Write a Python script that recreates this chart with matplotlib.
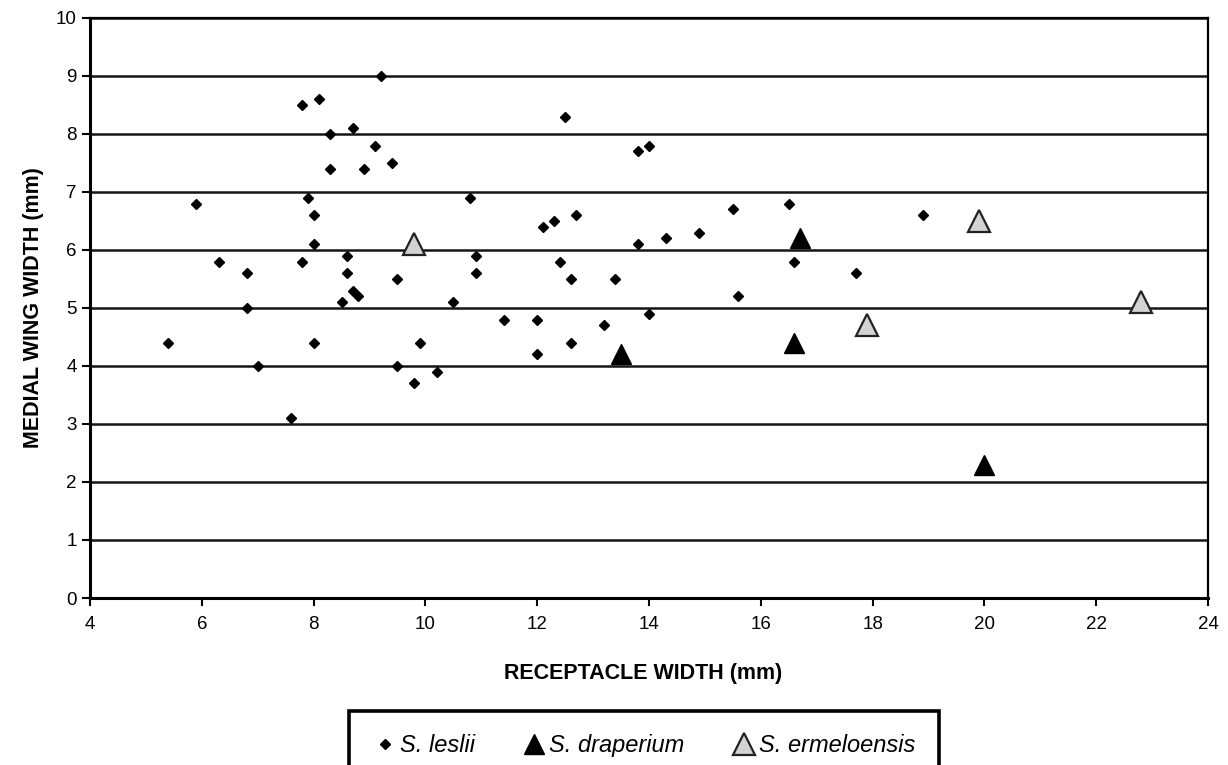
import matplotlib
matplotlib.use("Agg")
import matplotlib.pyplot as plt

plt.rcParams["font.family"] = ["Liberation Sans", "DejaVu Sans"]

# S. leslii
leslii_x = [5.4, 5.9, 6.3, 6.8, 6.8, 7.0, 7.6, 7.8, 8.1, 7.9, 7.8, 8.0, 8.0, 8.0,
            8.3, 8.3, 8.7, 8.9, 9.1, 9.2, 9.4, 8.6, 8.6, 8.7, 8.8, 8.5, 9.5, 9.5,
            9.8, 9.9, 10.2, 10.5, 10.8, 10.9, 10.9, 11.4, 12.0, 12.0, 12.1, 12.3,
            12.4, 12.5, 12.6, 12.6, 12.7, 13.2, 13.4, 13.8, 14.0, 13.8, 14.0, 14.3,
            14.9, 15.5, 15.6, 16.5, 16.6, 17.7, 18.9]
leslii_y = [4.4, 6.8, 5.8, 5.6, 5.0, 4.0, 3.1, 8.5, 8.6, 6.9, 5.8, 6.6, 6.1, 4.4,
            8.0, 7.4, 8.1, 7.4, 7.8, 9.0, 7.5, 5.9, 5.6, 5.3, 5.2, 5.1, 5.5, 4.0,
            3.7, 4.4, 3.9, 5.1, 6.9, 5.9, 5.6, 4.8, 4.8, 4.2, 6.4, 6.5,
            5.8, 8.3, 5.5, 4.4, 6.6, 4.7, 5.5, 7.7, 7.8, 6.1, 4.9, 6.2,
            6.3, 6.7, 5.2, 6.8, 5.8, 5.6, 6.6]

# S. draperium
draperium_x = [13.5, 16.7, 16.6, 20.0]
draperium_y = [4.2, 6.2, 4.4, 2.3]

# S. ermeloensis
ermeloensis_x = [9.8, 17.9, 19.9, 22.8]
ermeloensis_y = [6.1, 4.7, 6.5, 5.1]

x_ticks = [4, 6, 8, 10, 12, 14, 16, 18, 20, 22, 24]
y_ticks = [0, 1, 2, 3, 4, 5, 6, 7, 8, 9, 10]

fig = plt.figure(figsize=(12.28, 7.65), dpi=100)
ax = fig.add_axes([0.0733, 0.2183, 0.9104, 0.7582])

# horizontal gridlines
for yv in y_ticks[1:]:
    ax.axhline(yv, color="#151515", linewidth=1.8, zorder=1)

ax.plot(leslii_x, leslii_y, linestyle="none", marker="D", markersize=5.2,
        color="black", label="S. leslii", zorder=3)
ax.plot(draperium_x, draperium_y, linestyle="none", marker="^", markersize=14,
        color="black", label="S. draperium", zorder=3)
ax.plot(ermeloensis_x, ermeloensis_y, linestyle="none", marker="^", markersize=16,
        markerfacecolor="#d3d3d3", markeredgecolor="#222222", markeredgewidth=1.6,
        label="S. ermeloensis", zorder=3)

ax.set_xlim(4, 24)
ax.set_ylim(0, 10)
ax.set_xticks(x_ticks)
ax.set_yticks(y_ticks)
ax.tick_params(axis="both", labelsize=13.5, direction="out", length=6, width=1.5,
               color="black")
ax.tick_params(axis="x", pad=7)

for side in ["left", "bottom"]:
    ax.spines[side].set_linewidth(2.2)
for side in ["right", "top"]:
    ax.spines[side].set_linewidth(1.6)

ax.set_xlabel("RECEPTACLE WIDTH (mm)", fontsize=15.5, fontweight="bold")
ax.set_ylabel("MEDIAL WING WIDTH (mm)", fontsize=15.5, fontweight="bold")
ax.xaxis.set_label_coords(0.495, -0.112)
ax.yaxis.set_label_coords(-0.041, 0.5)

leg = fig.legend(loc="upper center", bbox_to_anchor=(0.5245, 0.071), ncol=3,
                 prop={"style": "italic", "size": 17}, frameon=True,
                 fancybox=False, edgecolor="black", framealpha=1,
                 borderpad=1.0, handlelength=1.0, handletextpad=0.15,
                 columnspacing=2.0, borderaxespad=0)
leg.get_frame().set_linewidth(2.6)

fig.savefig("out.png", dpi=100)
